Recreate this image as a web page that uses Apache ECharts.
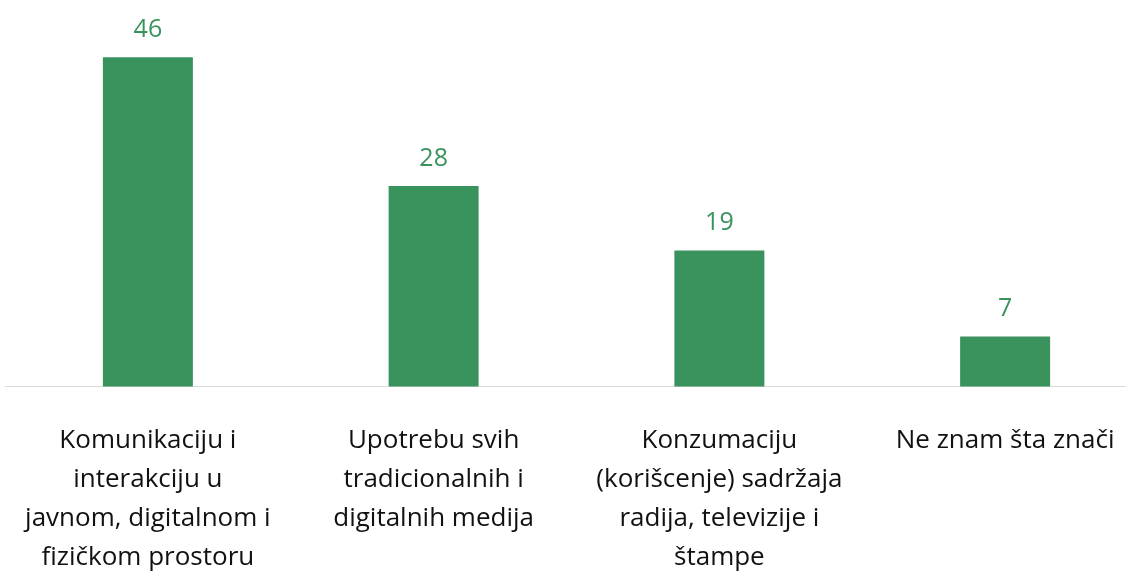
<!DOCTYPE html>
<html>
<head>
<meta charset="utf-8">
<script src="https://cdn.jsdelivr.net/npm/echarts@6/dist/echarts.min.js"></script>
<style>
  html, body { margin: 0; padding: 0; background: #fff; }
  #chart { width: 1126px; height: 573px; }
</style>
</head>
<body>
<div id="chart"></div>
<script>
const categories = [
  "Komunikaciju i\ninterakciju u\njavnom, digitalnom i\nfizičkom prostoru",
  "Upotrebu svih\ntradicionalnih i\ndigitalnih medija",
  "Konzumaciju\n(korišcenje) sadržaja\nradija, televizije i\nštampe",
  "Ne znam šta znači",
];
const values = [46, 28, 19, 7];

const chart = echarts.init(document.getElementById("chart"));
chart.setOption({
  animation: false,
  backgroundColor: "#ffffff",
  grid: {
    left: 5,
    right: -22,
    top: 28.5,
    height: 358,
    outerBoundsMode: "none",
    containLabel: false,
  },
  xAxis: {
    type: "category",
    data: categories,
    axisLine: { lineStyle: { color: "#d9d9d9", width: 1 } },
    axisTick: { show: false },
    axisLabel: {
      interval: 0,
      margin: 35,
      color: "#111111",
      fontFamily: "Open Sans",
      fontSize: 26,
      lineHeight: 39,
      align: "center",
    },
  },
  yAxis: {
    type: "value",
    min: 0,
    max: 50,
    show: false,
  },
  series: [
    {
      type: "bar",
      data: values,
      barWidth: 90,
      itemStyle: { color: "#3a935d" },
      label: {
        show: true,
        position: "top",
        distance: 15,
        color: "#3a935d",
        fontFamily: "Open Sans",
        fontSize: 25,
      },
    },
  ],
});
</script>
</body>
</html>
